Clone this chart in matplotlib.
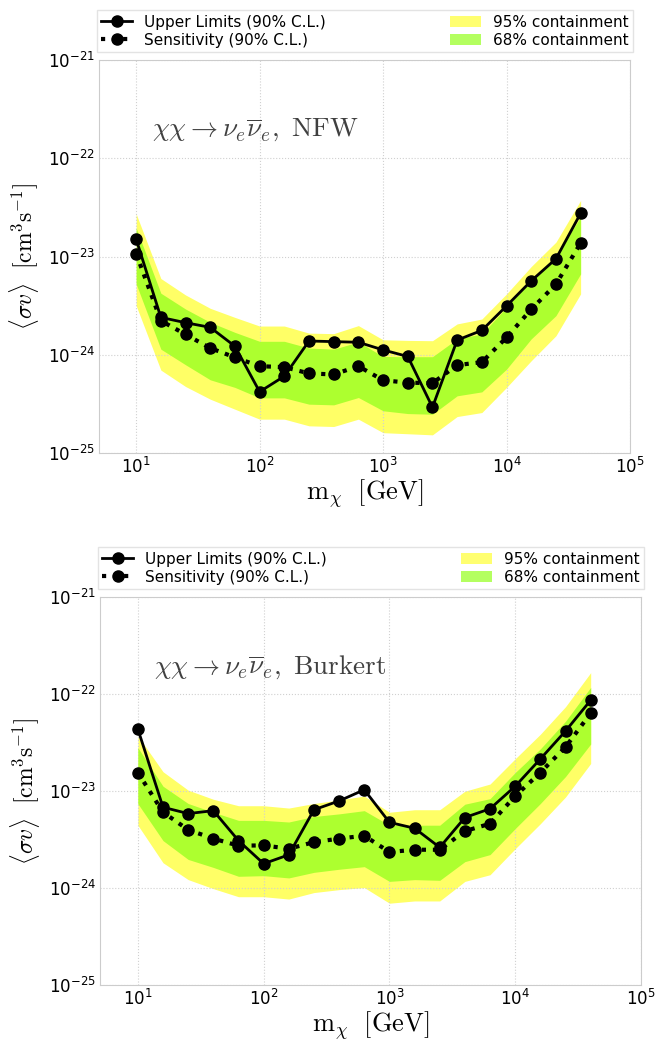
import matplotlib
matplotlib.use("Agg")
import matplotlib.pyplot as plt
from matplotlib.lines import Line2D
from matplotlib.patches import Patch

# dark matter masses [GeV]
mass = [10.0, 15.85, 25.12, 39.81, 63.10, 100.0, 158.5, 251.2, 398.1, 631.0,
        1000.0, 1585.0, 2512.0, 3981.0, 6310.0, 10000.0, 15849.0, 25119.0, 39811.0]

x_ticks = [1e1, 1e2, 1e3, 1e4, 1e5]
y_ticks = [1e-25, 1e-24, 1e-23, 1e-22, 1e-21]

# NFW profile
ul_nfw = [1.50e-23, 2.40e-24, 2.12e-24, 1.90e-24, 1.22e-24, 4.20e-25, 6.05e-25, 1.38e-24, 1.36e-24, 1.34e-24,
          1.12e-24, 9.60e-25, 2.92e-25, 1.41e-24, 1.77e-24, 3.14e-24, 5.65e-24, 9.47e-24, 2.75e-23]
sens_nfw = [1.07e-23, 2.22e-24, 1.61e-24, 1.17e-24, 9.40e-25, 7.65e-25, 7.48e-25, 6.46e-25, 6.30e-25, 7.65e-25,
            5.50e-25, 5.20e-25, 5.14e-25, 7.85e-25, 8.40e-25, 1.50e-24, 2.90e-24, 5.22e-24, 1.37e-23]
hi95_nfw = [2.72e-23, 5.97e-24, 4.06e-24, 2.97e-24, 2.40e-24, 1.96e-24, 1.96e-24, 1.66e-24, 1.64e-24, 1.98e-24,
            1.42e-24, 1.40e-24, 1.39e-24, 2.06e-24, 2.31e-24, 4.16e-24, 7.91e-24, 1.40e-23, 3.72e-23]
hi68_nfw = [1.95e-23, 4.23e-24, 2.92e-24, 2.14e-24, 1.69e-24, 1.37e-24, 1.37e-24, 1.17e-24, 1.14e-24, 1.35e-24,
            9.60e-25, 9.55e-25, 9.55e-25, 1.45e-24, 1.63e-24, 3.04e-24, 5.69e-24, 1.02e-23, 2.52e-23]
lo68_nfw = [5.26e-24, 1.14e-24, 7.91e-25, 5.56e-25, 4.65e-25, 3.64e-25, 3.64e-25, 3.14e-25, 3.09e-25, 3.67e-25,
            2.69e-25, 2.52e-25, 2.48e-25, 3.82e-25, 4.19e-25, 7.14e-25, 1.45e-24, 2.50e-24, 6.65e-24]
lo95_nfw = [3.16e-24, 6.98e-25, 4.75e-25, 3.53e-25, 2.79e-25, 2.21e-25, 2.21e-25, 1.89e-25, 1.86e-25, 2.21e-25,
            1.61e-25, 1.57e-25, 1.53e-25, 2.35e-25, 2.58e-25, 4.65e-25, 8.69e-25, 1.56e-24, 4.16e-24]

# Burkert profile
ul_bur = [4.35e-23, 6.80e-24, 5.85e-24, 6.27e-24, 3.08e-24, 1.78e-24, 2.20e-24, 6.41e-24, 7.90e-24, 1.03e-23,
          4.75e-24, 4.13e-24, 2.62e-24, 5.33e-24, 6.56e-24, 1.12e-23, 2.14e-23, 4.15e-23, 8.63e-23]
sens_bur = [1.55e-23, 6.04e-24, 3.98e-24, 3.23e-24, 2.73e-24, 2.75e-24, 2.54e-24, 2.97e-24, 3.23e-24, 3.46e-24,
            2.35e-24, 2.48e-24, 2.48e-24, 3.86e-24, 4.60e-24, 8.87e-24, 1.55e-23, 2.84e-23, 6.34e-23]
hi95_bur = [3.70e-23, 1.58e-23, 1.02e-23, 8.22e-24, 7.05e-24, 7.05e-24, 6.67e-24, 7.43e-24, 8.09e-24, 8.87e-24,
            6.04e-24, 6.41e-24, 6.41e-24, 9.95e-24, 1.18e-23, 2.15e-23, 3.85e-23, 7.40e-23, 1.66e-22]
hi68_bur = [2.80e-23, 1.12e-23, 7.43e-24, 6.04e-24, 4.98e-24, 4.98e-24, 4.79e-24, 5.46e-24, 5.81e-24, 6.27e-24,
            4.44e-24, 4.44e-24, 4.44e-24, 7.31e-24, 8.34e-24, 1.55e-23, 2.72e-23, 5.24e-23, 1.17e-22]
lo68_bur = [7.40e-24, 3.08e-24, 1.97e-24, 1.63e-24, 1.32e-24, 1.34e-24, 1.27e-24, 1.45e-24, 1.56e-24, 1.66e-24,
            1.17e-24, 1.22e-24, 1.20e-24, 1.87e-24, 2.21e-24, 4.10e-24, 7.43e-24, 1.41e-23, 3.05e-23]
lo95_bur = [4.44e-24, 1.82e-24, 1.22e-24, 9.84e-25, 8.13e-25, 8.13e-25, 7.69e-25, 8.97e-25, 9.62e-25, 1.01e-24,
            6.97e-25, 7.35e-25, 7.35e-25, 1.17e-24, 1.37e-24, 2.54e-24, 4.60e-24, 8.67e-24, 1.92e-23]

yellow = "#ffff66"
green = "#adff2f"

plt.rcParams["mathtext.fontset"] = "cm"


def draw_panel(ax, ul, sens, hi95, hi68, lo68, lo95, label):
    ax.fill_between(mass, lo95, hi95, color=yellow, lw=0, zorder=1)
    ax.fill_between(mass, lo68, hi68, color=green, lw=0, zorder=2)
    ax.plot(mass, sens, ls=":", lw=3, color="black", marker="o", ms=8, zorder=3)
    ax.plot(mass, ul, ls="-", lw=2, color="black", marker="o", ms=8, zorder=4)

    ax.set_xscale("log")
    ax.set_yscale("log")
    ax.set_xlim(5, 1e5)
    ax.set_ylim(1e-25, 1e-21)
    ax.set_xticks(x_ticks)
    ax.set_yticks(y_ticks)
    ax.minorticks_off()
    ax.grid(True, color="#d0d0d0", ls=":", lw=0.8)
    for s in ax.spines.values():
        s.set_color("#cccccc")
    ax.tick_params(length=0, labelsize=12, pad=3)

    ax.set_xlabel(r"$\mathrm{m}_\chi\ \ [\mathrm{GeV}]$", fontsize=19, labelpad=0)
    ax.set_ylabel(r"$\langle\sigma v\rangle\ \ [\mathrm{cm}^3\mathrm{s}^{-1}]$", fontsize=17, labelpad=5)
    ax.text(0.10, 0.82, r"$\chi\chi\rightarrow\nu_e\overline{\nu}_e,\ \mathrm{%s}$" % label,
            transform=ax.transAxes, fontsize=19.5, color="#404040", va="center", ha="left")

    handles = [
        Line2D([], [], color="black", ls="-", lw=2, marker="o", ms=8),
        Line2D([], [], color="black", ls=":", lw=3, marker="o", ms=8),
        Patch(facecolor="#ffff70", edgecolor="none"),
        Patch(facecolor="#b4ff60", edgecolor="none"),
    ]
    labels = ["Upper Limits (90% C.L.)", "Sensitivity (90% C.L.)",
              "95% containment", "68% containment"]
    leg = ax.legend(handles, labels, ncol=2, mode="expand", loc="lower left",
                    bbox_to_anchor=(-0.004, 1.02, 1.01, 0.1), fontsize=11,
                    frameon=True, fancybox=False, borderaxespad=0,
                    handlelength=2, labelspacing=0.2, borderpad=0.3)
    leg.get_frame().set_edgecolor("#dddddd")
    leg.get_frame().set_linewidth(1)


fig = plt.figure(figsize=(6.66, 10.43), dpi=100)
ax1 = fig.add_axes([99 / 666, 1 - 453 / 1043, 531 / 666, 393 / 1043])
ax2 = fig.add_axes([100 / 666, 1 - 985 / 1043, 541 / 666, 388 / 1043])

draw_panel(ax1, ul_nfw, sens_nfw, hi95_nfw, hi68_nfw, lo68_nfw, lo95_nfw, "NFW")
draw_panel(ax2, ul_bur, sens_bur, hi95_bur, hi68_bur, lo68_bur, lo95_bur, "Burkert")

fig.savefig("out.png", dpi=100)
